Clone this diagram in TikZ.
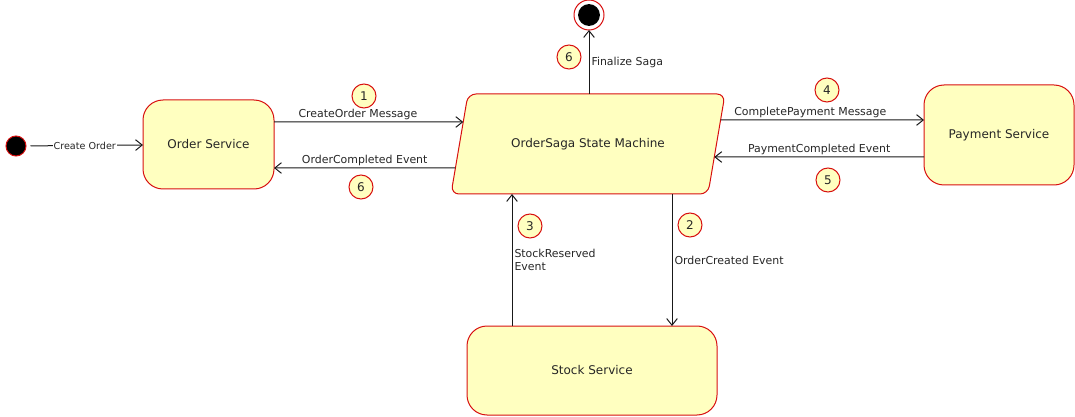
\documentclass[tikz,border=0pt]{standalone}
\usepackage{fontspec}
\setmainfont{DejaVu Sans}
\usetikzlibrary{arrows.meta,calc}
\definecolor{statefill}{HTML}{FFFFC0}
\definecolor{stateline}{HTML}{D81010}
\definecolor{inktext}{HTML}{262626}
\begin{document}
\begin{tikzpicture}[x=0.75pt,y=-0.75pt,line width=0.75pt,
  service/.style={draw=stateline,fill=statefill,rounded corners=15pt,outer sep=0pt,
    font=\fontsize{9}{11}\selectfont,text=inktext},
  badge/.style={circle,draw=stateline,fill=statefill,minimum size=18pt,inner sep=0pt,
    font=\fontsize{9}{11}\selectfont,text=inktext},
  msg/.style={draw=black!90,-{Straight Barb[length=5pt,width=8pt]}},
  lbl/.style={font=\fontsize{8.2}{10}\selectfont,text=inktext,inner sep=1.5pt}]
\useasboundingbox (0,0) rectangle (1075,417);
% states
\node[circle,draw=stateline,fill=black,minimum size=15pt,inner sep=0pt] (init) at (16,146) {};
\node[service,minimum width=98.25pt,minimum height=66.75pt] (os) at (208.5,144.5) {Order Service};
\coordinate (smtl) at (468,94);
\coordinate (smtr) at (725,94);
\coordinate (smbr) at (708,194);
\coordinate (smbl) at (451,194);
\draw[stateline,fill=statefill,rounded corners=6pt] (smtl) -- (smtr) -- (smbr) -- (smbl) -- cycle;
\node[font=\fontsize{9}{11}\selectfont,text=inktext] (sm) at (588,144) {OrderSaga State Machine};
\node[service,minimum width=112.5pt,minimum height=75pt] (ps) at (999,135) {Payment Service};
\node[service,minimum width=187.5pt,minimum height=66.75pt] (ss) at (592,370.5) {Stock Service};
\node[circle,draw=stateline,fill=white,minimum size=22.5pt,inner sep=0pt,outer sep=0pt] (fin) at (589,15) {};
\fill[black] (fin) circle (8.2pt);
% steps
\node[badge] (b1) at (364,96) {1};
\node[badge] (b6a) at (361,187) {6};
\node[badge] (b6b) at (569,57) {6};
\node[badge] (b4) at (827,90) {4};
\node[badge] (b5) at (828,180) {5};
\node[badge] (b3) at (530,226) {3};
\node[badge] (b2) at (690,225) {2};
% messages
\draw[msg,shorten <=3pt] (init) -- (os)
  node[midway,fill=white,inner sep=0.5pt,font=\fontsize{7.2}{9}\selectfont,text=inktext] {Create Order};
\draw[msg] (os.east |- 0,122) -- ($(smtl)!0.28!(smbl)$)
  node[lbl,midway,above,xshift=-8pt] {CreateOrder Message};
\draw[msg] ($(smtl)!0.74!(smbl)$) -- (os.east |- 0,168)
  node[lbl,midway,above] {OrderCompleted Event};
\draw[msg] ($(smtr)!0.26!(smbr)$) -- (ps.west |- 0,120)
  node[lbl,midway,above,xshift=-9pt] {CompletePayment Message};
\draw[msg] (ps.west |- 0,157) -- ($(smtr)!0.63!(smbr)$)
  node[lbl,midway,above] {PaymentCompleted Event};
\draw[msg] (fin.south |- smtl) -- (fin.south)
  node[lbl,midway,right] {Finalize Saga};
\draw[msg] (smbl -| 672,0) -- (ss.north -| 672,0)
  node[lbl,midway,right] {OrderCreated Event};
\draw[msg] (ss.north -| 512,0) -- (smbl -| 512,0)
  node[lbl,midway,right,align=left] {StockReserved\\Event};
\end{tikzpicture}
\end{document}
